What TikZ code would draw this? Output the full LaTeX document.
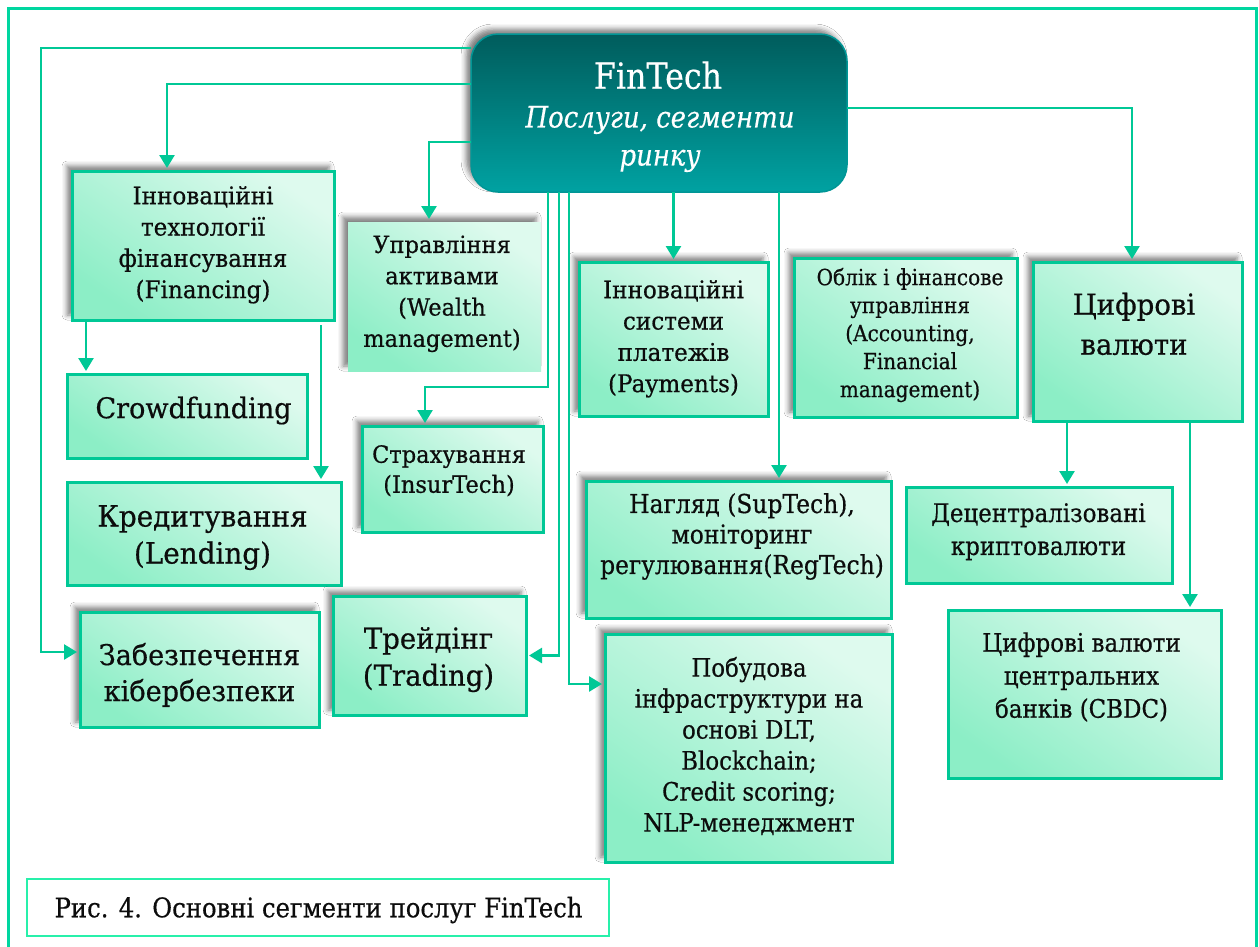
\documentclass[tikz,border=0pt]{standalone}
\usepackage{fontspec}
\setmainfont{DejaVu Serif}[FakeStretch=0.95, FakeBold=0.5]
\newfontfamily\hubserif{DejaVu Serif}[FakeStretch=0.88, FakeBold=0.4]
\newfontfamily\narrowserif{DejaVu Serif}[FakeStretch=0.9, FakeBold=0.5]
\usetikzlibrary{arrows.meta,calc,shadows.blur}

\definecolor{segline}{RGB}{0,200,150}
\definecolor{frameline}{RGB}{0,214,160}
\definecolor{captionline}{RGB}{40,240,170}
\definecolor{mintlight}{RGB}{222,250,238}
\definecolor{mintdark}{RGB}{140,238,198}
\definecolor{tealtop}{RGB}{0,92,92}
\definecolor{tealbottom}{RGB}{0,162,162}
\definecolor{tealedge}{RGB}{0,150,150}
\definecolor{inktext}{RGB}{12,12,12}

\newcommand\setfs[2]{\fontsize{#1}{#2}\selectfont}

\begin{document}
\begin{tikzpicture}[x=1pt,y=-1pt,
  segbox/.style={draw=segline, line width=3pt, top color=mintlight,
    bottom color=mintdark, shading angle=-35, anchor=north west,
    inner sep=0pt, outer sep=0pt},
  shadowed/.style={blur shadow={shadow xshift=-5pt, shadow yshift=5pt,
    shadow blur radius=5pt, shadow opacity=50}},
  hub/.style={draw=tealedge, line width=1.5pt, rounded corners=27pt,
    top color=tealtop, bottom color=tealbottom, anchor=north west,
    inner sep=0pt, outer sep=0pt},
  capbox/.style={draw=captionline, line width=2.5pt, fill=white,
    anchor=north west, inner sep=0pt, outer sep=0pt},
  segtext/.style={align=center, inner sep=0pt, text=inktext},
  hubtext/.style={align=center, inner sep=0pt, text=white},
  conn/.style={draw=segline, line width=2.6pt,
    -{Triangle[width=15pt,length=13pt]}, shorten >=3pt}
]
\useasboundingbox (0,0) rectangle (1259,946);
\fill[white] (0,0) rectangle (1259,946);
\draw[frameline, line width=3pt] (8,8) rectangle (1256,960);

% central hub
\node[hub, shadowed, minimum width=376pt, minimum height=158pt] (fintech) at (471,34) {};
\node[hubtext, font=\hubserif\setfs{36}{40}] (fintech-title) at (658,75.3) {FinTech};
\node[hubtext, font=\hubserif\itshape\setfs{29.5}{38}] (fintech-sub) at (660,139) {Послуги, сегменти\\ринку};

% segment boxes
\node[segbox, shadowed, minimum width=262pt, minimum height=149pt] (fin) at (72,171) {};
\node[segbox, draw=none, shadowed, minimum width=193pt, minimum height=149pt] (wealth) at (348,222) {};
\node[segbox, minimum width=240pt, minimum height=84pt] (crowd) at (67,374) {};
\node[segbox, minimum width=274pt, minimum height=103pt] (kred) at (67,482) {};
\node[segbox, shadowed, minimum width=239pt, minimum height=115pt] (cyber) at (80,612) {};
\node[segbox, shadowed, minimum width=181pt, minimum height=106pt] (insur) at (362,426) {};
\node[segbox, shadowed, minimum width=193pt, minimum height=119pt] (trade) at (333,596) {};
\node[segbox, shadowed, minimum width=189pt, minimum height=154pt] (pay) at (579,262) {};
\node[segbox, shadowed, minimum width=223pt, minimum height=159pt] (acc) at (794,258) {};
\node[segbox, shadowed, minimum width=209pt, minimum height=159pt] (cur) at (1033,262) {};
\node[segbox, shadowed, minimum width=305pt, minimum height=137pt] (sup) at (586,481) {};
\node[segbox, minimum width=266pt, minimum height=96pt] (defi) at (906,487) {};
\node[segbox, shadowed, minimum width=287pt, minimum height=228pt] (infra) at (605,634) {};
\node[segbox, minimum width=273pt, minimum height=168pt] (cbdc) at (948,610) {};
\node[capbox, minimum width=582pt, minimum height=57pt] (cap) at (27,879) {};

% box texts
\node[segtext, font=\setfs{24.3}{31.3}] (fin-t) at (203,244.8) {Інноваційні\\технології\\фінансування\\(Financing)};
\node[segtext, font=\setfs{23.7}{31.3}] (wealth-t) at (442,293.8) {Управління\\активами\\(Wealth\\management)};
\node[segtext, font=\setfs{28.5}{34}] (crowd-t) at (193.5,410.5) {Crowdfunding};
\node[segtext, font=\setfs{29.3}{37}] (kred-t) at (202.5,537.6) {Кредитування\\(Lending)};
\node[segtext, font=\setfs{28.5}{36}] (cyber-t) at (199.5,674.9) {Забезпечення\\кібербезпеки};
\node[segtext, font=\setfs{23.7}{30}] (insur-t) at (449,470.8) {Страхування\\(InsurTech)};
\node[segtext, font=\setfs{29}{37}] (trade-t) at (428.5,659.6) {Трейдінг\\(Trading)};
\node[segtext, font=\setfs{24.3}{31.3}] (pay-t) at (673.5,338.8) {Інноваційні\\системи\\платежів\\(Payments)};
\node[segtext, font=\narrowserif\setfs{22.3}{28}] (acc-t) at (910,335) {Облік і фінансове\\управління\\(Accounting,\\Financial\\management)};
\node[segtext, font=\setfs{29}{40}] (cur-t) at (1134,323.9) {Цифрові\\валюти};
\node[segtext, font=\narrowserif\setfs{26}{30.5}] (sup-t) at (742,536.5) {Нагляд (SupTech),\\моніторинг\\регулювання(RegTech)};
\node[segtext, font=\narrowserif\setfs{25.5}{33}] (defi-t) at (1038.5,531.7) {Децентралізовані\\криптовалюти};
\node[segtext, font=\narrowserif\setfs{25.4}{31}] (infra-t) at (749,746) {Побудова\\інфраструктури на\\основі DLT,\\Blockchain;\\Credit scoring;\\NLP-менеджмент};
\node[segtext, font=\narrowserif\setfs{25.5}{33}] (cbdc-t) at (1081.5,677) {Цифрові валюти\\центральних\\банків (CBDC)};
\node[segtext, font=\narrowserif\setfs{27}{30}] (cap-t) at (318.5,910) {Рис. 4. Основні сегменти послуг FinTech};

% connectors from the hub
\draw[conn] ($(fintech.north west)+(0,14)$) -| ($(cyber.north west)+(-39,40)$) -- ($(cyber.north west)+(0,40)$);
\draw[conn] ($(fintech.north west)+(0,50)$) -| ($(fin.north west)+(95,0)$);
\draw[conn] ($(fintech.north west)+(0,108)$) -| ($(wealth.north west)+(81,0)$);
\draw[conn] ($(fintech.south west)+(77,0)$) |- ($(insur.north west)+(63,-39)$) -- ($(insur.north west)+(63,0)$);
\draw[conn] ($(fintech.south west)+(88,0)$) |- (trade.east);
\draw[conn] ($(fintech.south west)+(98,0)$) |- ($(infra.north west)+(0,50)$);
\draw[conn] (pay.north |- fintech.south) -- (pay.north);
\draw[conn] ($(fintech.south west)+(308,0)$) -- ($(sup.north west)+(193,0)$);
\draw[conn] ($(fintech.north east)+(0,74)$) -| ($(cur.north west)+(99,0)$);

% second-level connectors
\draw[conn] ($(fin.south west)+(14,0)$) -- ($(crowd.north west)+(19,0)$);
\draw[conn] ($(fin.south east)+(-13,5)$) -- ($(kred.north east)+(-20,0)$);
\draw[conn] ($(cur.south west)+(34,0)$) -- ($(defi.north west)+(161,0)$);
\draw[conn] ($(cur.south west)+(157,0)$) -- ($(cbdc.north west)+(242,0)$);
\end{tikzpicture}
\end{document}
